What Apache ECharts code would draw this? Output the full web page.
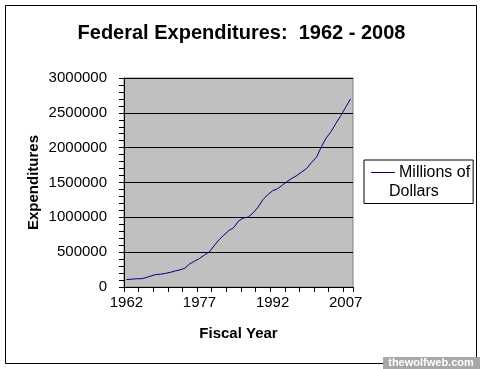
<!DOCTYPE html>
<html>
<head>
<meta charset="utf-8">
<script src="https://cdn.jsdelivr.net/npm/echarts@6/dist/echarts.min.js"></script>
<style>
html,body{margin:0;padding:0;background:#fff;}
#chart{width:483px;height:369px;}
</style>
</head>
<body>
<div id="chart"></div>
<script>
var years = [];
for (var yr = 1962; yr <= 2008; yr++) { years.push(String(yr)); }
var seriesName = 'Millions of Dollars';
var outlays = [
  107000, 111300, 118500, 118200, 134500, 157500, 178100, 183600, 195600, 210200,
  230700, 245700, 269400, 332300, 371800, 409200, 458700, 504000, 590900, 678200,
  745700, 808400, 851800, 946300, 990400, 1004000, 1064400, 1143700, 1253000, 1324200,
  1381500, 1409400, 1461800, 1515700, 1560500, 1601100, 1652500, 1701800, 1789000, 1862800,
  2010900, 2140000, 2230000, 2350000, 2460000, 2580000, 2700000
];
var titleText = 'Federal Expenditures:  1962 - 2008';
var xName = 'Fiscal Year';
var yName = 'Expenditures';
var watermark = 'thewolfweb.com';

var FONT = '"Liberation Sans", Arial, sans-serif';
var LINE = '#000080';
var chart = echarts.init(document.getElementById('chart'), null, {renderer: 'canvas'});
chart.setOption({
  backgroundColor: '#ffffff',
  animation: false,
  textStyle: {fontFamily: FONT, color: '#000'},
  title: {
    text: titleText, left: 'center', top: 18,
    textStyle: {fontFamily: FONT, fontSize: 20, fontWeight: 'bold', color: '#000'}
  },
  grid: {
    left: 124, top: 78, right: 130, bottom: 82,
    show: true, backgroundColor: '#c0c0c0', borderColor: '#808080', borderWidth: 1
  },
  legend: {
    show: true,
    left: 364, top: 160,
    orient: 'vertical',
    icon: 'none',
    itemWidth: 0, itemHeight: 36,
    padding: [4, 3, 4, 2],
    borderColor: '#000', borderWidth: 1,
    backgroundColor: '#fff',
    selectedMode: false,
    formatter: function (name) {
      var parts = name.split(' ');
      return '{s|}{a|' + parts.slice(0, 2).join(' ') + '}\n{d|' + parts.slice(2).join(' ') + '}';
    },
    textStyle: {
      fontFamily: FONT, fontSize: 16, color: '#000',
      rich: {
        s: {width: 24, height: 1, backgroundColor: LINE, verticalAlign: 'middle'},
        a: {fontFamily: FONT, fontSize: 16, color: '#000', padding: [0, 0, 0, 4], lineHeight: 19},
        d: {fontFamily: FONT, fontSize: 16, color: '#000', padding: [0, 0, 0, 18], lineHeight: 19}
      }
    }
  },
  xAxis: {
    type: 'category',
    data: years,
    boundaryGap: true,
    name: xName,
    nameLocation: 'middle',
    nameGap: 39,
    nameTextStyle: {fontFamily: FONT, fontSize: 15, fontWeight: 'bold', color: '#000'},
    axisLine: {show: true, lineStyle: {color: '#000', width: 1}},
    axisTick: {show: true, interval: 2, length: 5, lineStyle: {color: '#000'}},
    axisLabel: {interval: 14, fontFamily: FONT, fontSize: 15, color: '#000', margin: 8},
    splitLine: {show: false}
  },
  yAxis: {
    type: 'value',
    min: 0, max: 3000000, interval: 500000,
    name: yName,
    nameLocation: 'middle',
    nameRotate: 90,
    nameGap: 83,
    nameTextStyle: {fontFamily: FONT, fontSize: 15, fontWeight: 'bold', color: '#000'},
    axisLine: {show: true, lineStyle: {color: '#000', width: 1}},
    axisTick: {show: true, length: 5, lineStyle: {color: '#000'}},
    minorTick: {show: true, splitNumber: 5, length: 5, lineStyle: {color: '#000'}},
    axisLabel: {
      fontFamily: FONT, fontSize: 15, color: '#000', margin: 17,
      formatter: function (v) { return String(v); }
    },
    splitLine: {show: true, lineStyle: {color: '#000', width: 1}}
  },
  series: [{
    name: seriesName,
    type: 'line',
    data: outlays,
    showSymbol: false,
    symbol: 'none',
    lineStyle: {color: LINE, width: 1},
    itemStyle: {color: LINE}
  }],
  graphic: [
    {type: 'rect', shape: {x: 5.5, y: 5.5, width: 471, height: 358}, style: {fill: null, stroke: '#000', lineWidth: 1}, z: -1},
    {type: 'rect', shape: {x: 383, y: 357, width: 97, height: 12}, style: {fill: '#a8a8a8'}, z: 10},
    {type: 'text', x: 431, y: 363, style: {text: watermark, fill: '#ffffff', font: 'bold 11px ' + FONT, textAlign: 'center', textVerticalAlign: 'middle'}, z: 11}
  ]
});
</script>
</body>
</html>
